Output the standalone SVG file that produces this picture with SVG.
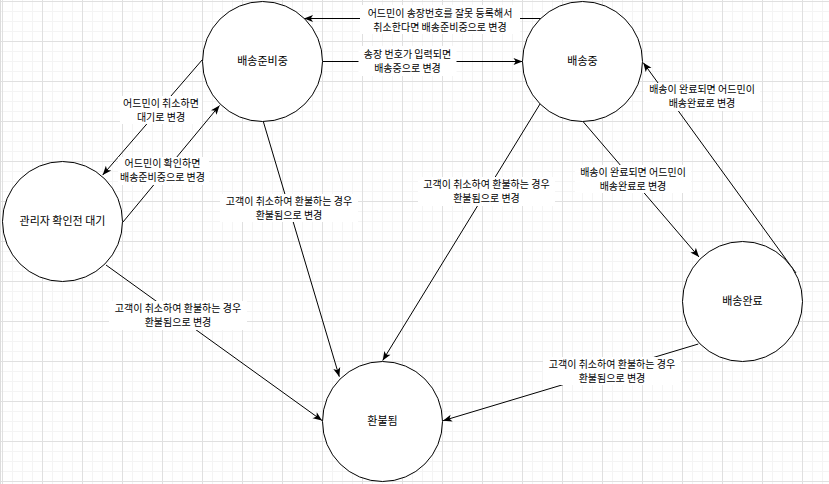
<svg xmlns="http://www.w3.org/2000/svg" width="829" height="484" viewBox="0 0 829 484">
<style>
.node{fill:#fff;stroke:#000;stroke-width:1}
.nt{font-family:"Noto Sans CJK KR","Noto Sans",sans-serif;font-size:11px;fill:#000;text-anchor:middle}
.edge{stroke:#000;stroke-width:1;fill:none;marker-end:url(#arr)}
.lbg{fill:#fff}
.lt{font-family:"Noto Sans CJK KR","Noto Sans",sans-serif;font-size:10px;fill:#000;text-anchor:middle}
</style>
<defs>
<marker id="arr" viewBox="0 0 10 10" refX="10" refY="5" markerUnits="userSpaceOnUse" markerWidth="10" markerHeight="9" orient="auto">
<path d="M0,1 L10,5 L0,9 L2.5,5 z" fill="#000"/>
</marker>
<pattern id="grid" width="40" height="40" patternUnits="userSpaceOnUse" x="2" y="1">
<path d="M10.5 0V40M20.5 0V40M30.5 0V40M0 10.5H40M0 20.5H40M0 30.5H40" stroke="#f4f4f4" stroke-width="1"/>
<path d="M0.5 0V40M0 0.5H40" stroke="#e0e0e0" stroke-width="1"/>
</pattern>
</defs>
<rect width="829" height="484" fill="#fff"/>
<rect width="829" height="484" fill="url(#grid)"/>
<path d="M0.5 0V484" stroke="#dcdcdc"/>

<g id="connectors">
<line class="edge" x1="541" y1="18.5" x2="304" y2="18.5"/>
<line class="edge" x1="322.5" y1="61.5" x2="522.5" y2="61.5"/>
<line class="edge" x1="202.5" y1="59.5" x2="102.7" y2="175"/>
<line class="edge" x1="123" y1="222" x2="219.5" y2="105.5"/>
<line class="edge" x1="263.3" y1="121.5" x2="339.3" y2="376.7"/>
<line class="edge" x1="540" y1="104" x2="382.7" y2="360.5"/>
<line class="edge" x1="583" y1="121.5" x2="699" y2="257"/>
<line class="edge" x1="796" y1="273" x2="643.3" y2="62.7"/>
<line class="edge" x1="106" y1="265" x2="322" y2="420.5"/>
<line class="edge" x1="698.3" y1="344" x2="443" y2="420.7"/>

<g id="label-e1"><rect class="lbg" x="360" y="5" width="160" height="29"/>
<text class="lt" x="440" y="16.8">어드민이 송장번호를 잘못 등록해서</text><text class="lt" x="440" y="30.8">취소한다면 배송준비중으로 변경</text></g>
<g id="label-e2"><rect class="lbg" x="358.5" y="46" width="98" height="30"/>
<text class="lt" x="407.5" y="57.5">송장 번호가 입력되면</text><text class="lt" x="407.5" y="71.5">배송중으로 변경</text></g>
<g id="label-e3"><rect class="lbg" x="120" y="96" width="82" height="28"/>
<text class="lt" x="161" y="107">어드민이 취소하면</text><text class="lt" x="161" y="121">대기로 변경</text></g>
<g id="label-e4"><rect class="lbg" x="118" y="157" width="91" height="28"/>
<text class="lt" x="162.5" y="167.3">어드민이 확인하면</text><text class="lt" x="162.5" y="181.3">배송준비중으로 변경</text></g>
<g id="label-e5"><rect class="lbg" x="220" y="194" width="138" height="28"/>
<text class="lt" x="289" y="205">고객이 취소하여 환불하는 경우</text><text class="lt" x="289" y="219">환불됨으로 변경</text></g>
<g id="label-e6"><rect class="lbg" x="418" y="177" width="137" height="29"/>
<text class="lt" x="486.5" y="188.4">고객이 취소하여 환불하는 경우</text><text class="lt" x="486.5" y="202.4">환불됨으로 변경</text></g>
<g id="label-e7"><rect class="lbg" x="575" y="165" width="116" height="28"/>
<text class="lt" x="633" y="176">배송이 완료되면 어드민이</text><text class="lt" x="633" y="190">배송완료로 변경</text></g>
<g id="label-e8"><rect class="lbg" x="644" y="83" width="116" height="28"/>
<text class="lt" x="702" y="93.3">배송이 완료되면 어드민이</text><text class="lt" x="702" y="107.3">배송완료로 변경</text></g>
<g id="label-e9"><rect class="lbg" x="109" y="301" width="138" height="29"/>
<text class="lt" x="178" y="312">고객이 취소하여 환불하는 경우</text><text class="lt" x="178" y="326">환불됨으로 변경</text></g>
<g id="label-e10"><rect class="lbg" x="543" y="357" width="138" height="28"/>
<text class="lt" x="612" y="368">고객이 취소하여 환불하는 경우</text><text class="lt" x="612" y="382">환불됨으로 변경</text></g>
</g>

<g id="node-ready"><circle class="node" cx="262.5" cy="61.5" r="60"/><text class="nt" x="262.5" y="65">배송준비중</text></g>
<g id="node-shipping"><circle class="node" cx="582.5" cy="61.5" r="60"/><text class="nt" x="582.5" y="65">배송중</text></g>
<g id="node-waiting"><circle class="node" cx="62.5" cy="221.5" r="60"/><text class="nt" x="62.5" y="225">관리자 확인전 대기</text></g>
<g id="node-delivered"><circle class="node" cx="742.5" cy="301.5" r="60"/><text class="nt" x="742.5" y="305">배송완료</text></g>
<g id="node-refunded"><circle class="node" cx="382.5" cy="421.5" r="60"/><text class="nt" x="382.5" y="425">환불됨</text></g>
</svg>
